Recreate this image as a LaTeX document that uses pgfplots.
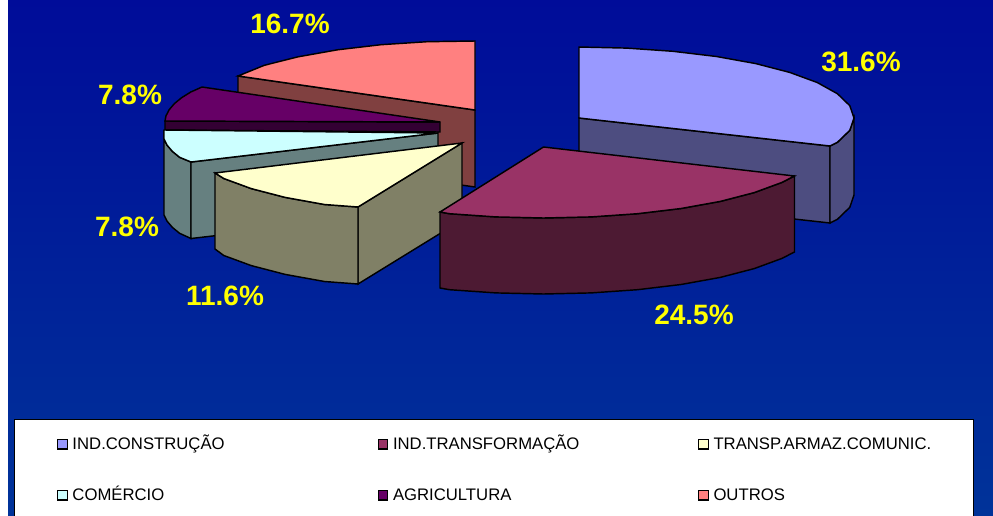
\documentclass[border=0pt]{standalone}
\usepackage{fontspec}
\setmainfont{Liberation Sans}
\usepackage{pgfplots}
\pgfplotsset{compat=1.18}
\definecolor{bgtop}{HTML}{000C99}
\definecolor{bgbot}{HTML}{003399}
\definecolor{lab}{HTML}{FFFF00}
\begin{document}
\begin{tikzpicture}
\useasboundingbox (0,0) rectangle (993pt,515pt);
\begin{axis}[
  at={(0,0)},anchor=south west,
  width=993pt,height=515pt,scale only axis,
  xmin=0,xmax=993,ymin=0,ymax=515,y dir=reverse,
  hide axis,clip=false,
  every axis plot/.append style={line width=1.45pt,draw=black,line join=miter},
  legend columns=3,
  legend cell align=left,
  legend image code/.code={\draw[#1,line width=1.1pt] (0pt,-4.75pt) rectangle (9.5pt,4.75pt);},
  legend style={at={(axis cs:57,436)},anchor=north west,draw=none,fill=none,inner sep=0pt,
    font=\fontsize{16.7}{18}\selectfont,
    row sep=35pt,
    /tikz/every odd column/.style={column sep=4.7pt},
    /tikz/every even column/.style={text width=305.2pt},
    nodes={inner sep=0pt,text height=13pt,text depth=3pt},
  },
]
% background
\addplot[forget plot,draw=none,top color=bgtop,bottom color=bgbot] coordinates {(8,0)(993,0)(993,515)(8,515)} -- cycle;
% legend panel
\addplot[forget plot,fill=white,line width=1pt] coordinates {(14,419)(973,419)(973,525)(14,525)} -- cycle;
% side faces, back to front
\addplot[forget plot,fill={rgb,255:red,128;green,64;blue,64}] coordinates {(238,76)(475,110)(475,187)(238,153)} -- cycle;
\addplot[forget plot,fill={rgb,255:red,77;green,77;blue,128}] coordinates {(579,118)(830,146)(830,223)(579,195)} -- cycle;
\addplot[forget plot,fill={rgb,255:red,77;green,77;blue,128}] coordinates {(854,118)(849.8,130.3)(837.4,142.3)(830,146)(830,223)(837.4,219.3)(849.8,207.3)(854,195)} -- cycle;
\addplot[forget plot,fill={rgb,255:red,51;green,0;blue,51}] coordinates {(165,121)(440,122)(440,132)(165,130)} -- cycle;
\addplot[forget plot,fill={rgb,255:red,102;green,128;blue,128}] coordinates {(164,130)(164,139)(167.2,145.3)(172.4,151.4)(179.6,157.3)(191,162)(191,238.5)(179.6,233.3)(172.4,227.4)(167.2,221.3)(164,215)} -- cycle;
\addplot[forget plot,fill={rgb,255:red,102;green,128;blue,128}] coordinates {(191,162)(438,133)(438,210)(191,238.5)} -- cycle;
\addplot[forget plot,fill={rgb,255:red,128;green,128;blue,102}] coordinates {(358,207)(462,143)(462,220)(358,284)} -- cycle;
\addplot[forget plot,fill={rgb,255:red,128;green,128;blue,102}] coordinates {(215,173)(223.8,178.5)(251.3,188.6)(285.2,197.4)(324.5,204.5)(358,207)(358,284)(324.5,281.5)(285.2,274.4)(251.3,265.6)(223.8,255.5)(215,249)} -- cycle;
\addplot[forget plot,fill={rgb,255:red,77;green,26;blue,51}] coordinates {(440,212)(449.5,213.7)(495.7,216.9)(543.5,218)(591.3,216.9)(637.5,213.7)(681,208.5)(720.3,201.4)(754.2,192.6)(781.7,182.5)(794.5,176)(794.5,252)(781.7,258.5)(754.2,268.6)(720.3,277.4)(681,284.5)(637.5,289.7)(591.3,292.9)(543.5,294)(495.7,292.9)(449.5,289.7)(440,288)} -- cycle;
% top faces
\addplot[fill={rgb,255:red,153;green,153;blue,255}] coordinates {(579,118)(579,47)(626.8,48.1)(673,51.3)(716.5,56.5)(755.8,63.6)(789.7,72.4)(817.2,82.5)(837.4,93.7)(849.8,105.7)(854,118)(849.8,130.3)(837.4,142.3)(830,146)} -- cycle;
\addlegendentry{IND.CONSTRUÇÃO}
\addplot[fill={rgb,255:red,153;green,51;blue,102}] coordinates {(543.5,147)(794.5,176)(781.7,182.5)(754.2,192.6)(720.3,201.4)(681,208.5)(637.5,213.7)(591.3,216.9)(543.5,218)(495.7,216.9)(449.5,213.7)(440,212)} -- cycle;
\addlegendentry{IND.TRANSFORMAÇÃO}
\addplot[fill={rgb,255:red,255;green,255;blue,204}] coordinates {(462,143)(358,207)(324.5,204.5)(285.2,197.4)(251.3,188.6)(223.8,178.5)(215,173)} -- cycle;
\addlegendentry{TRANSP.ARMAZ.COMUNIC.}
\addplot[fill={rgb,255:red,204;green,255;blue,255}] coordinates {(438,133)(191,162)(179.6,157.3)(172.4,151.4)(167.2,145.3)(164,139)(164,130)} -- cycle;
\addlegendentry{COMÉRCIO}
\addplot[fill={rgb,255:red,102;green,0;blue,102}] coordinates {(440,122)(202,87)(190.8,92)(181.6,97.7)(174.4,103.6)(169.2,109.7)(166,115.8)(165,121)} -- cycle;
\addlegendentry{AGRICULTURA}
\addplot[fill={rgb,255:red,255;green,128;blue,128}] coordinates {(475,110)(475,41)(427.2,41.7)(381,44.7)(337.5,49.8)(298.2,56.8)(264.3,65.3)(238,76)} -- cycle;
\addlegendentry{OUTROS}
% percentage labels
\begin{scope}[every node/.style={text=lab,font=\fontsize{28}{30}\selectfont\bfseries,inner sep=0pt}]
\node at (axis cs:290,24) {16.7\%};
\node at (axis cs:861,62) {31.6\%};
\node at (axis cs:694,315) {24.5\%};
\node at (axis cs:225,296) {11.6\%};
\node at (axis cs:127,227) {7.8\%};
\node at (axis cs:130,95) {7.8\%};
\end{scope}
\end{axis}
\end{tikzpicture}
\end{document}
